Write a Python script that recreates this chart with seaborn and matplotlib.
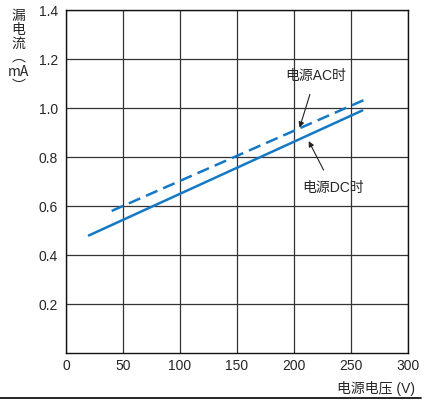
import seaborn as sns
import matplotlib.pyplot as plt
import pandas as pd
from matplotlib.lines import Line2D

# 数据
dc_voltage = [20, 260]
dc_current = [0.48, 0.99]
ac_voltage = [40, 265]
ac_current = [0.58, 1.04]

x_ticks = [0, 50, 100, 150, 200, 250, 300]
y_ticks = [0.2, 0.4, 0.6, 0.8, 1.0, 1.2, 1.4]

sns.set_style("white")
plt.rcParams['font.family'] = ['Liberation Sans', 'Noto Sans CJK SC', 'DejaVu Sans']

blue = "#1479c4"

fig = plt.figure(figsize=(4.32, 4.03), dpi=100)
ax = fig.add_axes([0.153, 0.124, 0.791, 0.851])

df_dc = pd.DataFrame({"V": dc_voltage, "I": dc_current})
df_ac = pd.DataFrame({"V": ac_voltage, "I": ac_current})
sns.lineplot(data=df_dc, x="V", y="I", color=blue, linewidth=1.8, ax=ax)
sns.lineplot(data=df_ac, x="V", y="I", color=blue, linewidth=1.8,
             linestyle=(0, (5, 2.5)), ax=ax)

ax.set_xlim(0, 300)
ax.set_ylim(0, 1.4)
ax.set_xticks(x_ticks)
ax.set_yticks(y_ticks)
ax.set_xticklabels([str(v) for v in x_ticks])
ax.set_yticklabels([f"{v:.1f}" for v in y_ticks])
ax.tick_params(length=0, labelsize=10)
ax.tick_params(axis="x", pad=4)
ax.tick_params(axis="y", pad=6)
ax.grid(True, color="#333333", linewidth=0.9)
for s in ax.spines.values():
    s.set_color("#111111")
    s.set_linewidth(1.0)
ax.set_xlabel("")
ax.set_ylabel("")

# 注释
ax.annotate("电源AC时", xy=(205, 0.92), xytext=(219, 1.13),
            ha="center", va="center", fontsize=10,
            arrowprops=dict(arrowstyle="-|>", color="#222222", lw=0.8,
                            shrinkA=6, shrinkB=0, mutation_scale=8))
ax.annotate("电源DC时", xy=(213, 0.865), xytext=(234, 0.675),
            ha="center", va="center", fontsize=10,
            arrowprops=dict(arrowstyle="-|>", color="#222222", lw=0.8,
                            shrinkA=6, shrinkB=0, mutation_scale=8))

# 纵轴标题（竖排）
fig.text(0.042, 0.978, "漏\n电\n流\n︵\nmA\n︶", ha="center", va="top",
         fontsize=10, linespacing=1.0,
         family=['Noto Sans CJK SC', 'DejaVu Sans'])
# 横轴标题
fig.text(0.96, 0.037, "电源电压 (V)", ha="right", va="center", fontsize=10)
fig.add_artist(Line2D([0.0, 0.975], [0.012, 0.012], color="black", lw=1.2,
                      transform=fig.transFigure))

fig.savefig("out.png", dpi=100)
